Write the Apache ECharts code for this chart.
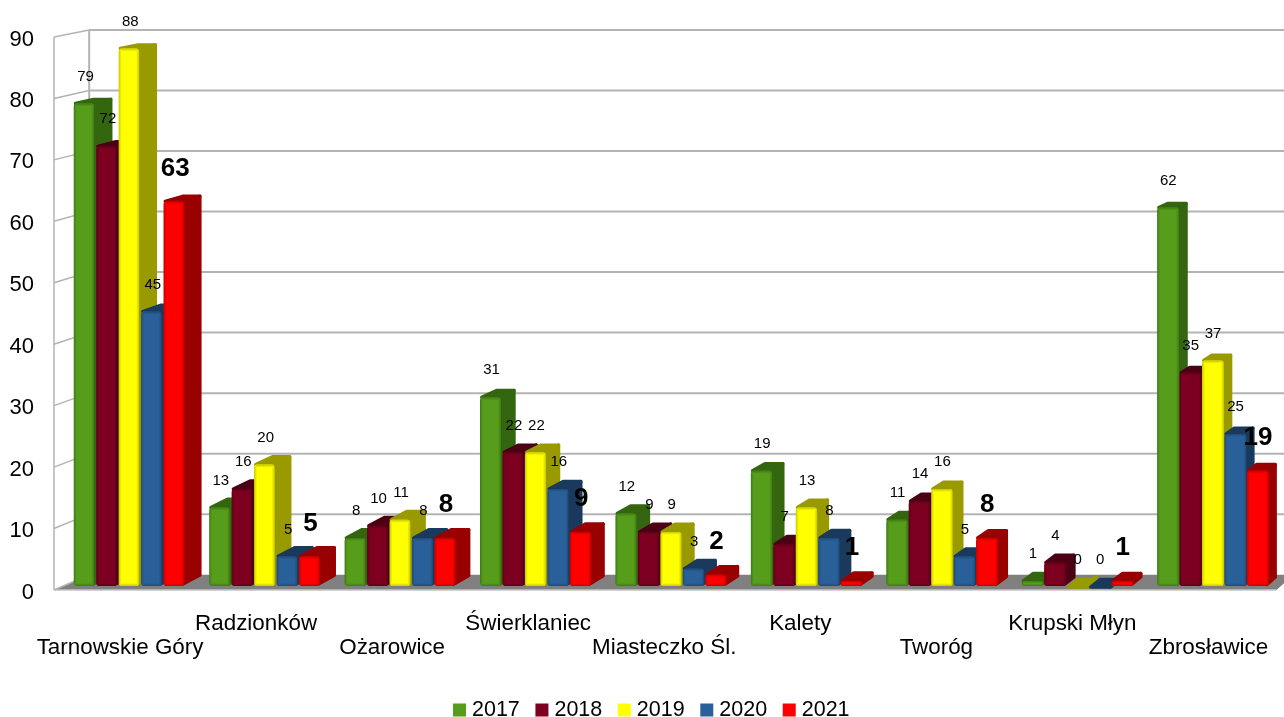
<!DOCTYPE html>
<html><head><meta charset="utf-8">
<style>html,body{margin:0;padding:0;background:#fff}#c{width:1284px;height:717px}</style>
<script src="https://cdn.jsdelivr.net/npm/echarts@6/dist/echarts.min.js"></script>
</head><body><div id="c"></div>
<script>
const categories = ['Tarnowskie Góry','Radzionków','Ożarowice','Świerklaniec','Miasteczko Śl.','Kalety','Tworóg','Krupski Młyn','Zbrosławice'];
const years = ['2017','2018','2019','2020','2021'];
const v2017 = [79,13,8,31,12,19,11,1,62];
const v2018 = [72,16,10,22,9,7,14,4,35];
const v2019 = [88,20,11,22,9,13,16,0,37];
const v2020 = [45,5,8,16,3,8,5,0,25];
const v2021 = [63,5,8,9,2,1,8,1,19];
const yTicks = [0,10,20,30,40,50,60,70,80,90];
const colors = ['#579d1c','#7e0021','#ffff00','#2a6099','#ff0000'];
const sideColors = ['#34650f','#4c0014','#999900','#193a5c','#990000'];
const edgeColors = ['#3f7a12','#5f0018','#c8c800','#1f4a78','#c80000'];
const values = [v2017,v2018,v2019,v2020,v2021];
const FONT = '"Liberation Sans", Arial, sans-serif';

// perspective model of the chart box
const VX = 2400, VY = -430, DEPTH = 0.015, D0 = 0.26;
const grp = 22.55;
function toPlane(c, d){
  const s = 1 - DEPTH*d;
  return [VX + (c[0]-VX)*s, VY + (c[1]-VY)*s];
}
function wallItem(params, api){
  const t = api.value(0);
  const cs = params.coordSys;
  const y = api.coord([0,t])[1];
  const xl = cs.x + 2, xr = cs.x + cs.width;
  const a = [xl,y], b = toPlane(a,1);
  const kids = [];
  const gridStyle = {stroke:'#b3b3b3', lineWidth:2, fill:null};
  if (params.dataIndex === 0){
    const y0 = y, fr = [xr,y0], br = toPlane(fr,1);
    const ytop = api.coord([0,yTicks[yTicks.length-1]])[1];
    kids.push({type:'polygon',shape:{points:[a,b,[1290,b[1]],br,fr]},style:{fill:'#808080'}});
    kids.push({type:'line',shape:{x1:xl,y1:ytop,x2:xl,y2:y0},style:{stroke:'#b3b3b3',lineWidth:1.5}});
    const bt = toPlane([xl,ytop],1);
    kids.push({type:'line',shape:{x1:bt[0],y1:bt[1],x2:b[0],y2:b[1]},style:gridStyle});
    kids.push({type:'line',shape:{x1:xl,y1:y0,x2:xr,y2:y0},style:{stroke:'#c4c4c4',lineWidth:1.5}});
  }
  kids.push({type:'line',shape:{x1:a[0],y1:a[1],x2:b[0],y2:b[1]},style:{stroke:'#b3b3b3',lineWidth:1.5}});
  if (params.dataIndex !== 0)
    kids.push({type:'line',shape:{x1:b[0],y1:b[1],x2:1284,y2:b[1]},style:gridStyle});
  return {type:'group',children:kids};
}
function geom(s, api){
  const i = api.value(0), v = api.value(1);
  const cx = api.coord([i,v])[0] + (s-2)*grp;
  const top = toPlane([cx, api.coord([i,v])[1]], D0);
  const bot = toPlane([cx, api.coord([i,0])[1]], D0);
  const L = top[0]-grp/2+1.0-(cx-120)*0.0008;
  const w = 20.5 + 0.0013*(L-74);
  const total = 38.7 - 0.0074*(L-74);
  const dx = total - w;
  return {L, R:L+w, w, T:top[1]+1, B:bot[1], dx, cx:L+w/2, v};
}
function dyAt(y,x){ return 0.0108*(y-VY)*(1-(x-185)*0.00018); }
function barItem(s){
  return function(params, api){
    const g = geom(s, api);
    const dT = dyAt(g.T,g.L), dB = dyAt(g.B,g.L);
    const side = sideColors[s], base = colors[s], edge = edgeColors[s];
    const kids = [];
    const rounded = {stroke:side,lineWidth:3.5,lineJoin:'round'};
    const ins = 1.75;
    kids.push({type:'polygon',z2:1,shape:{points:[[g.R-ins,g.T],[g.R+g.dx-ins,g.T-dT+ins],[g.R+g.dx-ins,g.B-dB],[g.R-ins,g.B-ins]]},
      style:Object.assign({fill:side},rounded)});
    kids.push({type:'polygon',z2:2,shape:{points:[[g.L+ins,g.T],[g.L+g.dx+ins,g.T-dT+ins],[g.R+g.dx-ins,g.T-dT+ins],[g.R,g.T]]},
      style:Object.assign({fill:side},rounded)});
    const h = g.B-g.T;
    if (h > 0.5){
      const r = Math.min(3,h/2);
      kids.push({type:'rect',z2:3,shape:{x:g.L,y:g.T,width:g.w,height:h,r},
        style:{fill:{type:'linear',x:0,y:0,x2:1,y2:0,colorStops:[
          {offset:0,color:edge},{offset:3/g.w,color:base},{offset:1-3/g.w,color:base},{offset:1,color:edge}]}}});
      const cap = Math.min(3,h/2);
      kids.push({type:'rect',z2:4,shape:{x:g.L+1.5,y:g.T,width:g.w-3,height:cap,r:1},
        style:{fill:{type:'linear',x:0,y:0,x2:0,y2:1,colorStops:[{offset:0,color:edge},{offset:1,color:base}]}}});
      kids.push({type:'rect',z2:4,shape:{x:g.L+1.5,y:g.B-cap,width:g.w-3,height:cap,r:1},
        style:{fill:{type:'linear',x:0,y:0,x2:0,y2:1,colorStops:[{offset:0,color:base},{offset:1,color:edge}]}}});
    }
    return {type:'group',children:kids};
  };
}
function labelItem(s){
  const bold = s === 4;
  return function(params, api){
    const g = geom(s, api);
    return {type:'text',z2:10,style:{
      x:g.cx+1.5-(g.L-74)*0.0012, y:g.T-(bold?33:27),
      text:String(g.v), align:'center', verticalAlign:'middle',
      fill:'#000', font:(bold?'bold 26px ':'15px ')+FONT}};
  };
}
const series = [{
  type:'custom', name:'walls', z:1, silent:true, renderItem:wallItem,
  data:yTicks.map(t=>[t]), encode:{y:0}, clip:false
}];
years.forEach((y,s)=>{
  const data = values[s].map((v,i)=>[i,v]);
  series.push({type:'custom',name:y,z:2,silent:true,clip:false,renderItem:barItem(s),
    itemStyle:{color:colors[s]},encode:{x:0,y:1},data});
});
years.forEach((y,s)=>{
  const data = values[s].map((v,i)=>[i,v]);
  series.push({type:'custom',name:y,z:3,silent:true,clip:false,renderItem:labelItem(s),
    itemStyle:{color:colors[s]},encode:{x:0,y:1},data});
});
const chart = echarts.init(document.getElementById('c'),null,{renderer:'canvas'});
chart.setOption({
  animation:false,
  backgroundColor:'#fff',
  textStyle:{fontFamily:FONT},
  grid:{left:52,right:7.5,top:37,bottom:127,containLabel:false},
  legend:{data:years,left:453,top:699,itemWidth:13,itemHeight:13,itemGap:15.6,icon:'rect',
    selectedMode:false,textStyle:{fontFamily:FONT,fontSize:21.5,color:'#000',padding:[0,0,0,1]},
    padding:0},
  xAxis:{type:'category',data:categories,
    axisLine:{show:false},axisTick:{show:false},splitLine:{show:false},
    axisLabel:{interval:0,margin:22,fontSize:22.4,color:'#000',fontFamily:FONT,lineHeight:24,
      formatter:(n,i)=> i%2 ? n+'\n ' : ' \n'+n}},
  yAxis:{type:'value',min:0,max:90,interval:10,
    axisLine:{show:false},axisTick:{show:false},splitLine:{show:false},
    axisLabel:{margin:18,color:'#000',fontFamily:FONT,
      formatter:'{t|{value}}',
      rich:{t:{fontSize:22,fontFamily:FONT,color:'#000',padding:[5,0,0,0]}}}},
  series
});
</script></body></html>
